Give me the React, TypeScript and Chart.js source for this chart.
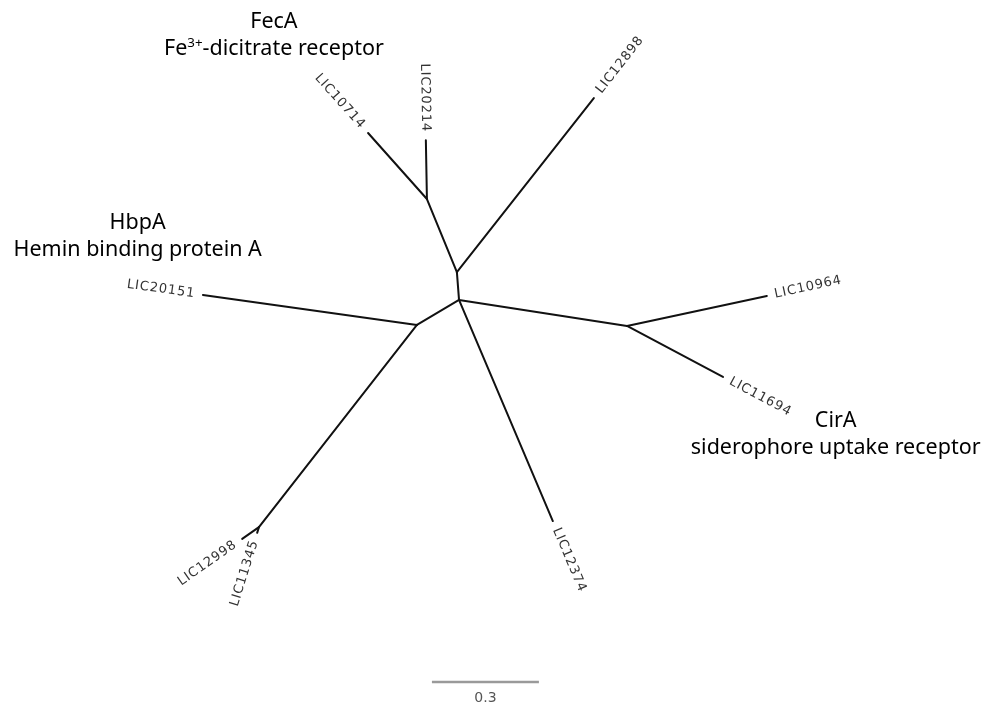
import { useEffect, useRef } from "react";
import { Chart, registerables } from "chart.js";

Chart.register(...registerables);

// Tree layout (branch-length units; y grows downward)
const nodeIds = [
  "A", "B", "C", "D", "E", "F",
  "LIC10714", "LIC20214", "LIC12898", "LIC20151", "LIC10964",
  "LIC11694", "LIC12374", "LIC12998", "LIC11345",
];
const nodeX = [
  1.197, 1.281, 1.287, 1.169, 1.758, 0.726,
  1.032, 1.194, 1.665, 0.569, 2.150,
  2.027, 1.550, 0.679, 0.721,
];
const nodeY = [
  0.558, 0.763, 0.841, 0.911, 0.914, 1.478,
  0.373, 0.393, 0.275, 0.827, 0.830,
  1.057, 1.461, 1.511, 1.494,
];
const edgeFrom = ["A", "A", "A", "B", "B", "C", "C", "C", "D", "D", "F", "F", "E", "E"];
const edgeTo = [
  "LIC10714", "LIC20214", "B", "LIC12898", "C", "D", "E", "LIC12374",
  "LIC20151", "F", "LIC12998", "LIC11345", "LIC10964", "LIC11694",
];

// Scale bar
const scaleBarStart = 1.211;
const scaleBarLength = 0.3;
const scaleBarY = 1.912;
const scaleBarLabel = "0.3";

// Clade annotations
const cladeNames = ["FecA", "HbpA", "CirA"];
const cladeDescs = ["Fe^{3+}-dicitrate receptor", "Hemin binding protein A", "siderophore uptake receptor"];
const cladeX = [0.768, 0.386, 2.343];
const cladeY = [0.0785, 0.642, 1.197];

const X_MAX = 2.7645;
const Y_MAX = 1.9879;

const idx = (id: string) => nodeIds.indexOf(id);

const labelPlugin = {
  id: "treeLabels",
  afterDatasetsDraw(chart: any) {
    const ctx = chart.ctx as CanvasRenderingContext2D;
    const xs = chart.scales.x;
    const ys = chart.scales.y;
    const px = (v: number) => xs.getPixelForValue(v);
    const py = (v: number) => ys.getPixelForValue(v);

    // tip labels
    ctx.save();
    ctx.fillStyle = "#333";
    ctx.font = "13px 'DejaVu Sans'";
    (ctx as any).letterSpacing = "0.9px";
    ctx.textBaseline = "middle";
    edgeTo.forEach((tip, i) => {
      if (!tip.startsWith("LIC")) return;
      const p = idx(edgeFrom[i]);
      const t = idx(tip);
      const x0 = px(nodeX[p]), y0 = py(nodeY[p]);
      const x1 = px(nodeX[t]), y1 = py(nodeY[t]);
      const dx = x1 - x0, dy = y1 - y0;
      const len = Math.hypot(dx, dy) || 1;
      const ux = dx / len, uy = dy / len;
      const gap = 8;
      let ang = Math.atan2(dy, dx);
      let align: CanvasTextAlign = "left";
      if (dx < 0) {
        ang += Math.PI;
        align = "right";
      }
      ctx.save();
      ctx.translate(x1 + ux * gap, y1 + uy * gap);
      ctx.rotate(ang);
      ctx.textAlign = align;
      ctx.fillText(tip, 0, 0);
      ctx.restore();
    });
    ctx.restore();

    // scale bar label
    ctx.save();
    ctx.fillStyle = "#555";
    ctx.font = "14px 'DejaVu Sans'";
    ctx.textAlign = "center";
    ctx.textBaseline = "middle";
    ctx.fillText(scaleBarLabel, px(scaleBarStart + scaleBarLength / 2), py(scaleBarY) + 16);
    ctx.restore();

    // clade annotations
    ctx.save();
    ctx.fillStyle = "#000";
    const fontSize = 21.5;
    const font = `${fontSize}px 'Noto Sans'`;
    const supFont = `${fontSize * 0.62}px 'Noto Sans'`;
    ctx.textBaseline = "alphabetic";
    cladeNames.forEach((name, i) => {
      const cx = px(cladeX[i]);
      const cy = py(cladeY[i]);
      ctx.font = font;
      ctx.textAlign = "center";
      ctx.fillText(name, cx, cy);
      // description with optional superscript ^{...}
      const parts = cladeDescs[i].split(/(\^\{[^}]*\})/).filter((s) => s.length);
      const segs = parts.map((s) => {
        const sup = s.startsWith("^{");
        const text = sup ? s.slice(2, -1) : s;
        ctx.font = sup ? supFont : font;
        return { text, sup, w: ctx.measureText(text).width };
      });
      const total = segs.reduce((a, s) => a + s.w, 0);
      let x = cx - total / 2;
      const by = cy + 27;
      ctx.textAlign = "left";
      segs.forEach((s) => {
        ctx.font = s.sup ? supFont : font;
        ctx.fillText(s.text, x, s.sup ? by - fontSize * 0.38 : by);
        x += s.w;
      });
    });
    ctx.restore();
  },
};

export default function App() {
  const canvasRef = useRef<HTMLCanvasElement | null>(null);

  useEffect(() => {
    if (!canvasRef.current) return;
    const edgeSets = edgeFrom.map((from, i) => {
      const a = idx(from);
      const b = idx(edgeTo[i]);
      return {
        label: `${from}-${edgeTo[i]}`,
        data: [
          { x: nodeX[a], y: nodeY[a] },
          { x: nodeX[b], y: nodeY[b] },
        ],
        showLine: true,
        borderColor: "#111",
        borderWidth: 2,
        borderCapStyle: "round" as const,
        pointRadius: 0,
        fill: false,
      };
    });
    const scaleSet = {
      label: "scale",
      data: [
        { x: scaleBarStart, y: scaleBarY },
        { x: scaleBarStart + scaleBarLength, y: scaleBarY },
      ],
      showLine: true,
      borderColor: "#9a9a9a",
      borderWidth: 2.5,
      pointRadius: 0,
      fill: false,
    };
    const chart = new Chart(canvasRef.current, {
      type: "scatter",
      data: { datasets: [...edgeSets, scaleSet] as any },
      options: {
        animation: false,
        responsive: false,
        layout: { padding: 0 },
        plugins: {
          legend: { display: false },
          tooltip: { enabled: false },
        },
        scales: {
          x: { type: "linear", display: false, min: 0, max: X_MAX },
          y: { type: "linear", display: false, min: 0, max: Y_MAX, reverse: true },
        },
      },
      plugins: [labelPlugin],
    });
    return () => chart.destroy();
  }, []);

  return (
    <div style={{ position: "absolute", left: 0, top: 0, width: 986, height: 709, background: "#fff" }}>
      <canvas ref={canvasRef} width={986} height={709} style={{ display: "block" }} />
    </div>
  );
}
